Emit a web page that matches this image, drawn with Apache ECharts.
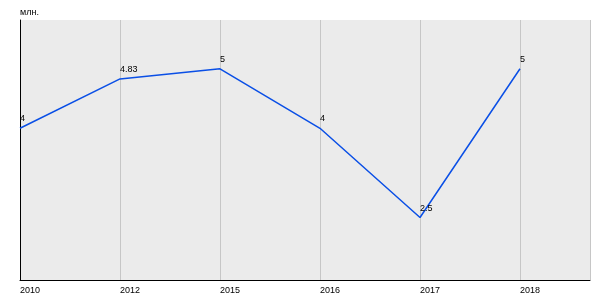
<!DOCTYPE html>
<html>
<head>
<meta charset="utf-8">
<script src="https://cdn.jsdelivr.net/npm/echarts@6/dist/echarts.min.js"></script>
<style>html,body{margin:0;padding:0;background:#fff}#c{width:600px;height:300px}</style>
</head>
<body>
<div id="c"></div>
<script>
const categories = ['2010', '2012', '2015', '2016', '2017', '2018'];
const values = [4, 4.83, 5, 4, 2.5, 5];
const yAxisName = 'млн.';

const seriesData = values.map((v, i) => [i, v]);
const chart = echarts.init(document.getElementById('c'), null, {renderer: 'canvas'});
const font = 'Liberation Sans, Arial, sans-serif';
chart.setOption({
  animation: false,
  grid: {left: 20, right: 10, top: 20, bottom: 20, show: true, backgroundColor: '#ebebeb', borderWidth: 0,
         containLabel: false, outerBoundsMode: 'none'},
  xAxis: {
    type: 'value', min: 0, max: 5.7, interval: 1,
    axisLine: {show: true, onZero: false, lineStyle: {color: '#000', width: 1}},
    axisTick: {show: false},
    splitLine: {show: true, lineStyle: {color: '#c6c6c6', width: 1}},
    axisLabel: {
      color: '#000', fontSize: 9, fontFamily: font, align: 'left', margin: 6,
      showMaxLabel: false,
      formatter: v => Number.isInteger(v) && categories[v] !== undefined ? categories[v] : ''
    }
  },
  yAxis: {
    type: 'value', min: 1.45, max: 5.82,
    name: yAxisName, nameLocation: 'end', nameGap: 3,
    nameTextStyle: {color: '#000', fontSize: 9, fontFamily: font, align: 'left'},
    axisLine: {show: true, lineStyle: {color: '#000', width: 1}},
    axisTick: {show: false},
    axisLabel: {show: false},
    splitLine: {show: false}
  },
  series: [{
    type: 'line',
    data: seriesData,
    symbol: 'circle', symbolSize: 0,
    lineStyle: {color: '#0a4fe6', width: 1.5},
    itemStyle: {color: '#0a4fe6'},
    label: {
      show: true, position: 'top', align: 'left', distance: 5,
      color: '#000', fontSize: 9, fontFamily: font,
      formatter: p => String(p.value[1])
    }
  }]
});
</script>
</body>
</html>
